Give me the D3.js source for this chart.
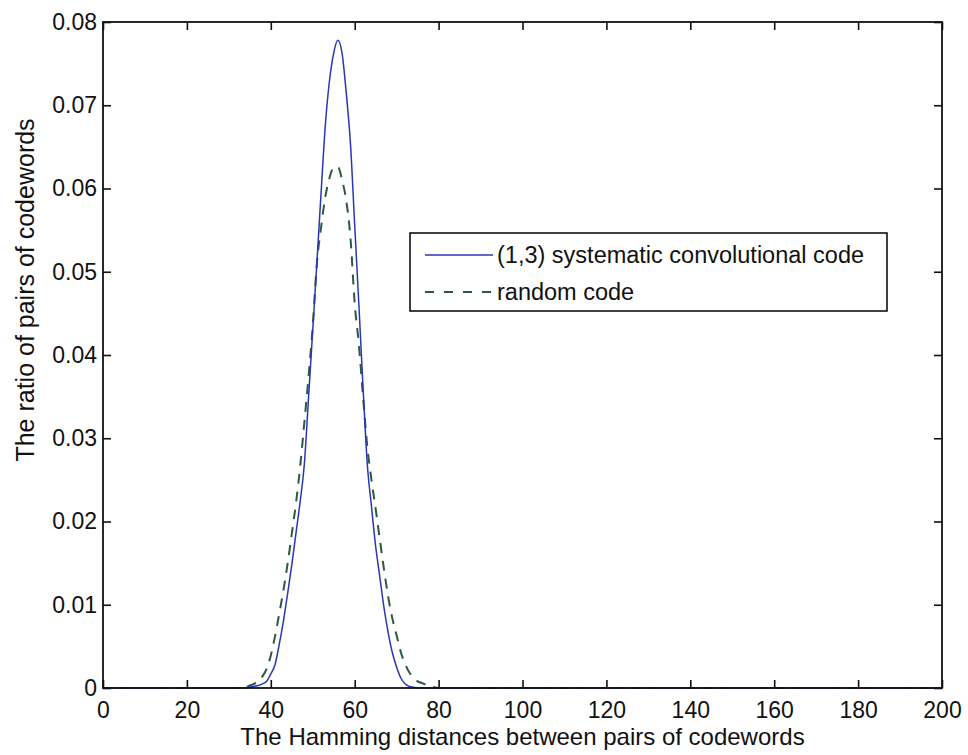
<!doctype html>
<html>
<head>
    <title>Hamming distance distribution</title>
    <script src="https://d3js.org/d3.v7.min.js"></script>
    <style>
      body { margin: 0; background: white; }
      text { font-family: "Liberation Sans", Arial, sans-serif; fill: #111; }
    </style>
</head>
<body>
    <script>
    var width = 968, height = 755;
    var margin = {left: 103, right: 26, top: 22, bottom: 67};

    // Hamming distance (x) for each sample
    var distances = [0, 33, 34, 35, 36, 37, 38, 39, 40, 41, 42, 43, 44, 45, 46, 47, 48, 49,
                     50, 51, 52, 53, 54, 55, 56, 57, 58, 59, 60, 61, 62, 63, 64, 65, 66, 67,
                     68, 69, 70, 71, 72, 73, 74, 75, 76, 77, 78, 79, 80, 200];

    // (1,3) systematic convolutional code
    var convValues = [0, 0, 0, 0.0001, 0.0002, 0.0003, 0.0005, 0.0008, 0.0017, 0.0028, 0.0052, 0.0080, 0.0113, 0.0148, 0.0186, 0.0224, 0.0269, 0.0349,
                      0.0430, 0.0512, 0.0596, 0.0676, 0.0730, 0.0763, 0.0778, 0.0762, 0.0714, 0.0653, 0.0556, 0.0460, 0.0360, 0.0269, 0.0218, 0.0170, 0.0133, 0.0096,
                      0.0066, 0.0042, 0.0025, 0.0012, 0.0005, 0.0002, 0.0001, 0, 0, 0, 0, 0, 0, 0];

    // random code
    var randValues = [0, 0, 0.0001, 0.0003, 0.0005, 0.0008, 0.0014, 0.0023, 0.0039, 0.0062, 0.0089, 0.0117, 0.0149, 0.0185, 0.0222, 0.0266, 0.0319, 0.0374,
                      0.0435, 0.0511, 0.0554, 0.0590, 0.0613, 0.0625, 0.0626, 0.0610, 0.0585, 0.0540, 0.0462, 0.0412, 0.0349, 0.0290, 0.0250, 0.0215, 0.0178, 0.0142,
                      0.0109, 0.0083, 0.0063, 0.0043, 0.0029, 0.0019, 0.0013, 0.0008, 0.0006, 0.0004, 0.0002, 0.0001, 0, 0];

    var xTicks = [0, 20, 40, 60, 80, 100, 120, 140, 160, 180, 200];
    var yTicks = [0, 0.01, 0.02, 0.03, 0.04, 0.05, 0.06, 0.07, 0.08];
    var seriesNames = ["(1,3) systematic convolutional code", "random code"];

    var svg = d3.select("body")
                .append("svg")
                .attr("width", width)
                .attr("height", height);

    var x = d3.scaleLinear().domain([0, 200]).range([margin.left, width - margin.right]);
    var y = d3.scaleLinear().domain([0, 0.08]).range([height - margin.bottom, margin.top]);

    var x0 = x.range()[0], x1 = x.range()[1], y0 = y.range()[0], y1 = y.range()[1];

    var tickFmt = function(d){ return d === 0 ? "0" : d3.format(".2f")(d); };

    // bottom axis, ticks inward
    svg.append("g")
       .attr("transform", "translate(0," + y0 + ")")
       .call(d3.axisBottom(x).tickValues(xTicks).tickSize(-8).tickPadding(14).tickFormat(d3.format("d")))
       .call(function(g){
         g.select(".domain").remove();
         g.selectAll("text").style("font-size", "23px").attr("dy", "0.71em");
       });

    // left axis
    svg.append("g")
       .attr("transform", "translate(" + x0 + ",0)")
       .call(d3.axisLeft(y).tickValues(yTicks).tickSize(-8).tickPadding(6).tickFormat(tickFmt))
       .call(function(g){
         g.select(".domain").remove();
         g.selectAll("text").style("font-size", "23px");
       });

    // top and right ticks, no labels
    svg.append("g")
       .attr("transform", "translate(0," + y1 + ")")
       .call(d3.axisTop(x).tickValues(xTicks).tickSize(-8).tickFormat(""))
       .call(function(g){ g.select(".domain").remove(); });
    svg.append("g")
       .attr("transform", "translate(" + x1 + ",0)")
       .call(d3.axisRight(y).tickValues(yTicks).tickSize(-8).tickFormat(""))
       .call(function(g){ g.select(".domain").remove(); });

    svg.selectAll(".tick line").attr("stroke", "#111").attr("stroke-width", 1.6);

    var line = d3.line()
                 .curve(d3.curveMonotoneX)
                 .x(function(d){ return x(d[0]); })
                 .y(function(d){ return y(d[1]); });

    var randData = distances.map(function(d, i){ return [d, randValues[i]]; });
    var convData = distances.map(function(d, i){ return [d, convValues[i]]; });

    svg.append("path")
       .attr("d", line(randData))
       .attr("fill", "none")
       .attr("stroke", "#2d5a3e")
       .attr("stroke-width", 2)
       .attr("stroke-dasharray", "10,8");

    svg.append("path")
       .attr("d", line(convData))
       .attr("fill", "none")
       .attr("stroke", "#2a36b4")
       .attr("stroke-width", 1.5);

    // box
    svg.append("rect")
       .attr("x", x0).attr("y", y1)
       .attr("width", x1 - x0).attr("height", y0 - y1)
       .attr("fill", "none")
       .attr("stroke", "#111")
       .attr("stroke-width", 1.8);

    // axis titles
    svg.append("text")
       .attr("x", (x0 + x1) / 2)
       .attr("y", 745)
       .attr("text-anchor", "middle")
       .style("font-size", "24px")
       .text("The Hamming distances between pairs of codewords");

    svg.append("text")
       .attr("transform", "translate(34,290) rotate(-90)")
       .attr("text-anchor", "middle")
       .style("font-size", "25px")
       .text("The ratio of pairs of codewords");

    // legend
    var legend = svg.append("g");
    legend.append("rect")
          .attr("x", 410).attr("y", 233)
          .attr("width", 477).attr("height", 78)
          .attr("fill", "white")
          .attr("stroke", "#111")
          .attr("stroke-width", 1.6);

    var legendStyles = [
      {color: "#2a36b4", dash: null, w: 1.5},
      {color: "#2d5a3e", dash: "9,10", w: 2}
    ];

    legend.selectAll(".item")
          .data(seriesNames)
          .enter()
          .append("g")
          .attr("transform", function(d, i){ return "translate(0," + (255 + i * 37) + ")"; })
          .each(function(d, i){
            var g = d3.select(this);
            g.append("line")
             .attr("x1", 425).attr("x2", 493)
             .attr("stroke", legendStyles[i].color)
             .attr("stroke-width", legendStyles[i].w)
             .attr("stroke-dasharray", legendStyles[i].dash);
            g.append("text")
             .attr("x", 497)
             .attr("dy", "0.35em")
             .style("font-size", "23.5px")
             .text(d);
          });
    </script>
</body>
</html>
